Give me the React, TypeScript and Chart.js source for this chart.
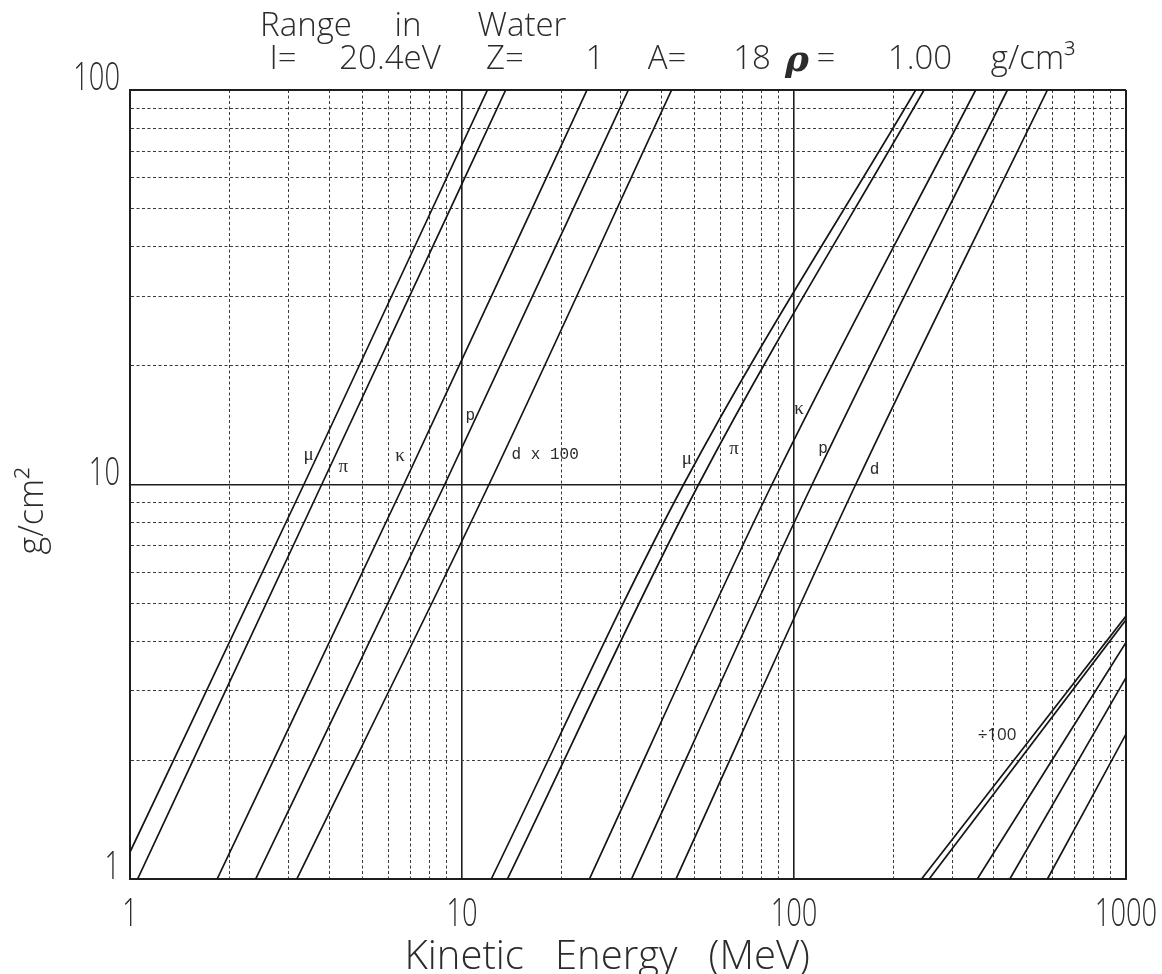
import React, { useEffect, useRef } from 'react';
import { Chart, registerables } from 'chart.js';

Chart.register(...registerables);

// ---------------- data ----------------
// Each curve: [kinetic energy (MeV), plotted range (g/cm²)]
// low-energy family (plotted as range × 100)
const muLow = [[1, 1.17], [3.34, 10], [11.93, 100]];
const piLow = [[1.054, 1], [3.78, 10], [13.54, 100]];
const kaonLow = [[1.83, 1], [6.68, 10], [23.8, 100]];
const protonLow = [[2.39, 1], [8.87, 10], [31.7, 100]];
const deuteronLow = [[3.18, 1], [12.06, 10], [42.8, 100]];
// middle family (range as is)
const muMid = [[12.25, 1], [46.5, 10], [232.6, 100]];
const piMid = [[13.7, 1], [51.6, 10], [246.4, 100]];
const kaonMid = [[24.2, 1], [85.8, 10], [352.5, 100]];
const protonMid = [[32.4, 1], [113.4, 10], [439.3, 100]];
const deuteronMid = [[44.1, 1], [153.4, 10], [579.9, 100]];
// high-energy family (plotted as range ÷ 100)
const muHigh = [[242.2, 1], [1000, 4.64]];
const piHigh = [[255.3, 1], [1000, 4.54]];
const kaonHigh = [[356.6, 1], [1000, 3.98]];
const protonHigh = [[446.8, 1], [1000, 3.24]];
const deuteronHigh = [[579.9, 1], [1000, 2.33]];

const curveLabelTexts = ['μ', 'π', 'κ', 'p', 'd x 100', 'μ', 'π', 'κ', 'p', 'd', '÷100'];
const curveLabelEnergies = [3.45, 4.39, 6.51, 10.6, 17.8, 47.6, 66.0, 103.5, 122.4, 174.8, 409];
const curveLabelRanges = [11.9, 11.1, 11.8, 14.9, 11.9, 11.6, 12.3, 15.5, 12.3, 10.9, 2.31];

const xDecades = [1, 10, 100, 1000];
const xTickLabels = ['1', '10', '100', '1000'];
const yDecades = [1, 10, 100];
const yTickLabels = ['1', '10', '100'];
const minorMultipliers = [2, 3, 4, 5, 6, 7, 8, 9];

const titleLine1 = ['Range', 'in', 'Water'];
const titleLine2 = ['I=', '20.4eV', 'Z=', '1', 'A=', '18', '=', '1.00', 'g/cm³'];

// ---------------- styling / layout ----------------
const PLOT_FONT = "'Open Sans', 'Liberation Sans', sans-serif";
const INK = '#2b2b2b';
const TICK_STRETCH = 0.7; // plotter lettering is tall and narrow

const allCurves = [
  muLow, piLow, kaonLow, protonLow, deuteronLow,
  muMid, piMid, kaonMid, protonMid, deuteronMid,
  muHigh, piHigh, kaonHigh, protonHigh, deuteronHigh,
];

function logTicks(decades: number[]) {
  const out: { value: number; major: boolean }[] = [];
  decades.forEach((d, i) => {
    out.push({ value: d, major: true });
    if (i < decades.length - 1) minorMultipliers.forEach((m) => out.push({ value: d * m, major: false }));
  });
  return out;
}

function gridStyle(decades: number[]) {
  const first = decades[0];
  const last = decades[decades.length - 1];
  return {
    color: (c: any) => (c.tick && decades.includes(c.tick.value) ? '#1e1e1e' : '#3a3a3a'),
    lineWidth: (c: any) => {
      if (!c.tick) return 1;
      const v = c.tick.value;
      if (v === first || v === last) return 2;
      return decades.includes(v) ? 1.6 : 1;
    },
    drawTicks: false,
  };
}

function borderStyle(decades: number[]) {
  return {
    display: true,
    color: '#1e1e1e',
    width: 2,
    dash: (c: any) => (c.tick && !decades.includes(c.tick.value) ? [3, 2.5] : []),
  };
}

// draw the scale's own label items, horizontally condensed like plotter text
function condensedLabels(scale: any) {
  if (scale.__condensed) return;
  scale.__condensed = true;
  scale.drawLabels = function (chartArea: any) {
    const ctx = scale.ctx;
    const items = scale.getLabelItems(chartArea);
    for (const item of items) {
      if (!item.label) continue;
      const o = item.options;
      ctx.save();
      ctx.translate(o.translation[0], o.translation[1]);
      if (o.rotation) ctx.rotate(o.rotation);
      ctx.scale(TICK_STRETCH, 1);
      ctx.font = item.font.string;
      ctx.fillStyle = o.color;
      ctx.textAlign = o.textAlign;
      ctx.textBaseline = o.textBaseline;
      ctx.fillText(String(item.label), 0, item.textOffset);
      ctx.restore();
    }
  };
}

// title positions (token centres, canvas pixels)
const line1Centers = [306, 408, 522];
const line2Centers = [283, 390, 505, 595, 667, 752, 826, 920, 1033];

const titlePlugin = {
  id: 'rangeTitle',
  afterDraw(chart: any) {
    const ctx = chart.ctx;
    ctx.save();
    ctx.fillStyle = INK;
    ctx.textAlign = 'center';
    ctx.textBaseline = 'alphabetic';
    ctx.font = `300 33px ${PLOT_FONT}`;
    titleLine1.forEach((t, i) => ctx.fillText(t, line1Centers[i], 36));
    titleLine2.forEach((t, i) => ctx.fillText(t, line2Centers[i], 69));
    ctx.font = "italic bold 36px 'DejaVu Serif', serif";
    ctx.fillText('ρ', 797, 71);
    ctx.restore();
  },
};

const curveLabelPlugin = {
  id: 'curveLabels',
  afterDatasetsDraw(chart: any) {
    const { ctx, scales } = chart;
    ctx.save();
    ctx.fillStyle = INK;
    ctx.textAlign = 'center';
    ctx.textBaseline = 'middle';
    curveLabelTexts.forEach((t, i) => {
      const x = scales.x.getPixelForValue(curveLabelEnergies[i]);
      const y = scales.y.getPixelForValue(curveLabelRanges[i]);
      if (t === '÷100') ctx.font = `17px ${PLOT_FONT}`;
      else if (t.length === 1 && /[μπκ]/.test(t)) ctx.font = "19px 'Liberation Serif', 'DejaVu Serif', serif";
      else ctx.font = "16px 'Liberation Mono', 'DejaVu Sans Mono', monospace";
      ctx.fillText(t, x, y);
    });
    ctx.restore();
  },
};

export default function App() {
  const canvasRef = useRef<HTMLCanvasElement | null>(null);

  useEffect(() => {
    const canvas = canvasRef.current;
    if (!canvas) return;

    const datasets = allCurves.map((pts) => ({
      data: pts.map(([e, r]) => ({ x: e, y: r })),
      showLine: true,
      borderColor: '#151515',
      borderWidth: 1.7,
      pointRadius: 0,
      cubicInterpolationMode: 'monotone' as const,
      fill: false,
    }));

    const tickFont = { family: PLOT_FONT, size: 39, weight: 300 };

    const chart = new Chart(canvas, {
      type: 'scatter',
      data: { datasets },
      options: {
        animation: false,
        responsive: false,
        devicePixelRatio: 1,
        events: [],
        layout: { padding: { top: 90, right: 36, bottom: 0, left: 0 } },
        plugins: {
          legend: { display: false },
          tooltip: { enabled: false },
          title: { display: false },
        },
        scales: {
          x: {
            type: 'logarithmic',
            min: 1,
            max: 1000,
            afterBuildTicks: (s: any) => {
              s.ticks = logTicks(xDecades);
            },
            afterFit: (s: any) => {
              s.height = 95;
              s.paddingLeft = 0;
              s.paddingRight = 0;
              condensedLabels(s);
            },
            grid: gridStyle(xDecades),
            border: borderStyle(xDecades),
            ticks: {
              autoSkip: false,
              maxRotation: 0,
              minRotation: 0,
              padding: 12,
              color: INK,
              font: tickFont,
              callback: (v: any) => {
                const i = xDecades.indexOf(Number(v));
                return i >= 0 ? xTickLabels[i] : '';
              },
            },
            title: {
              display: true,
              text: 'Kinetic   Energy   (MeV)    ',
              color: INK,
              font: { family: PLOT_FONT, size: 40, weight: 300, lineHeight: 0.8 },
              padding: { top: 0, bottom: 0 },
            },
          },
          y: {
            type: 'logarithmic',
            min: 1,
            max: 100,
            afterBuildTicks: (s: any) => {
              s.ticks = logTicks(yDecades);
            },
            afterFit: (s: any) => {
              s.width = 130;
              s.paddingTop = 0;
              s.paddingBottom = 0;
              condensedLabels(s);
            },
            grid: gridStyle(yDecades),
            border: borderStyle(yDecades),
            ticks: {
              autoSkip: false,
              padding: 10,
              labelOffset: -11,
              color: INK,
              font: tickFont,
              callback: (v: any) => {
                const i = yDecades.indexOf(Number(v));
                return i >= 0 ? yTickLabels[i] : '';
              },
            },
            title: {
              display: true,
              text: 'g/cm²      ',
              color: INK,
              font: { family: PLOT_FONT, size: 34, weight: 300 },
              padding: { top: 13, bottom: 0 },
            },
          },
        },
      },
      plugins: [titlePlugin, curveLabelPlugin],
    } as any);

    return () => chart.destroy();
  }, []);

  return (
    <div style={{ position: 'absolute', left: 0, top: 0, width: 1162, height: 974, background: '#fff' }}>
      <canvas ref={canvasRef} width={1162} height={974} style={{ display: 'block' }} />
    </div>
  );
}
